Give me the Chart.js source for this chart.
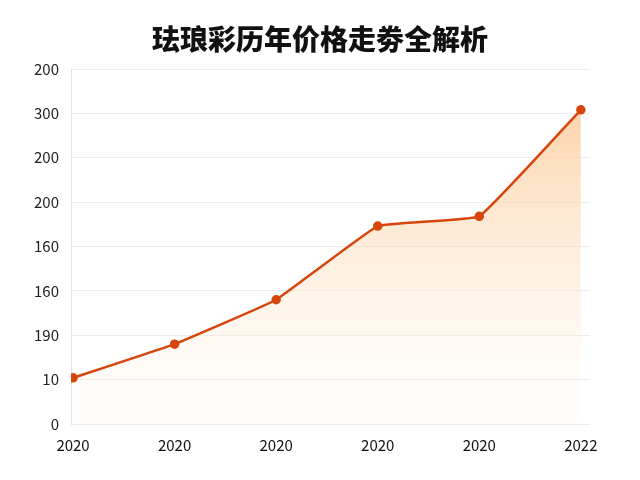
<!DOCTYPE html>
<html>
<head>
<meta charset="utf-8">
<script src="https://cdn.jsdelivr.net/npm/chart.js@4"></script>
<style>
  html, body { margin: 0; padding: 0; background: #fff; }
  #wrap { position: relative; width: 640px; height: 480px; }
  #title {
    position: absolute; left: 0; top: 18px; width: 640px;
    text-align: center; margin: 0;
    font-family: 'Noto Sans CJK SC', sans-serif;
    font-size: 28px; font-weight: 900; color: #111;
    line-height: 40px;
  }
</style>
</head>
<body>
<div id="wrap">
  <h1 id="title">珐琅彩历年价格走劵全解析</h1>
  <canvas id="priceChart"></canvas>
</div>
<script>
// 图表数据
const years = ['2020', '2020', '2020', '2020', '2020', '2022'];
const prices = [52, 90, 140, 223, 234, 354];
// 纵轴刻度文字（按原图照抄）
const yTickLabels = ['0', '10', '190', '160', '160', '200', '200', '300', '200'];

const lineColor = '#d6460c';
const font = "'Noto Sans CJK SC', 'Open Sans', sans-serif";

function areaGradient(context) {
    const { ctx, chartArea } = context.chart;
    if (!chartArea) return 'rgba(252,200,150,0.4)';
    const g = ctx.createLinearGradient(0, chartArea.top, 0, chartArea.bottom);
    g.addColorStop(0, 'rgba(251,192,135,0.85)');
    g.addColorStop(0.45, 'rgba(253,218,180,0.55)');
    g.addColorStop(1, 'rgba(255,245,235,0.1)');
    return g;
}

new Chart(document.getElementById('priceChart'), {
    type: 'line',
    data: {
        datasets: [{
            data: prices.map((p, i) => ({ x: i, y: p })),
            borderColor: lineColor,
            borderWidth: 2.5,
            pointBackgroundColor: lineColor,
            pointBorderColor: lineColor,
            pointRadius: 3.5,
            tension: 0.08,
            fill: 'origin',
            backgroundColor: areaGradient
        }]
    },
    options: {
        responsive: true,
        maintainAspectRatio: false,
        animation: false,
        layout: { padding: { left: 0, right: 50, top: 69, bottom: 22 } },
        plugins: {
            legend: { display: false },
            tooltip: { enabled: false },
            title: { display: false }
        },
        scales: {
            x: {
                type: 'linear',
                min: -0.02,
                max: 5.09,
                afterBuildTicks: axis => { axis.ticks = years.map((_, i) => ({ value: i })); },
                ticks: {
                    callback: v => years[v],
                    color: '#111',
                    font: { family: font, size: 15 },
                    padding: 4,
                    maxRotation: 0,
                    autoSkip: false
                },
                grid: { display: false },
                border: { display: false }
            },
            y: {
                min: 0,
                max: 400,
                afterFit: scale => { scale.width = 71; },
                afterBuildTicks: axis => { axis.ticks = yTickLabels.map((_, i) => ({ value: i * 50 })); },
                ticks: {
                    callback: (v, i) => yTickLabels[i],
                    color: '#222',
                    font: { family: font, size: 15 },
                    padding: 12
                },
                grid: { color: '#ececec', lineWidth: 1, drawTicks: false },
                border: { color: '#e2e2e2' }
            }
        }
    }
});
</script>
</body>
</html>
